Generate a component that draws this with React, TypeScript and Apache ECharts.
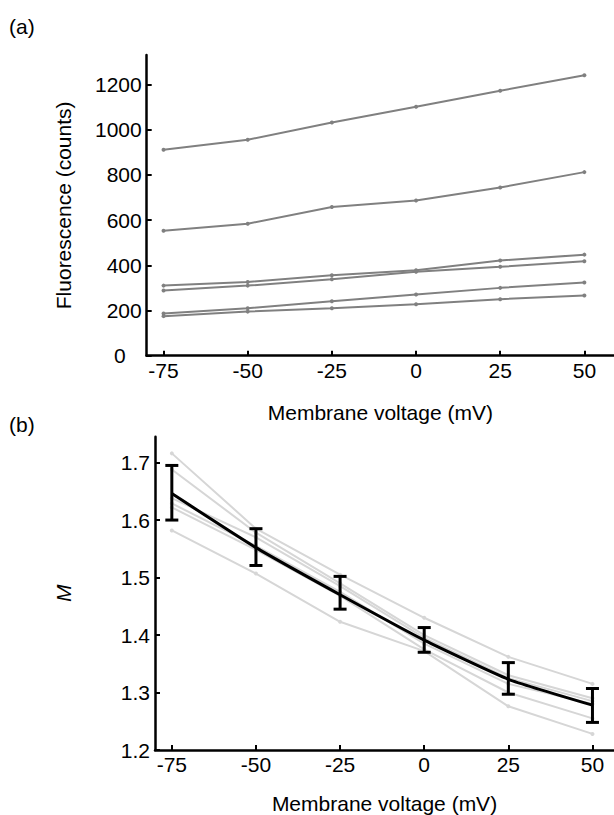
import React, { useEffect, useRef } from "react";
import * as echarts from "echarts";

// ---- Data ----
const voltages = [-75, -50, -25, 0, 25, 50];
const xTicks = [-75, -50, -25, 0, 25, 50];
const fluoTicks = [0, 200, 400, 600, 800, 1000, 1200];
const mTicks = [1.2, 1.3, 1.4, 1.5, 1.6, 1.7];

// (a) fluorescence traces (counts)
const fluo1 = [911, 955, 1031, 1101, 1172, 1240];
const fluo2 = [553, 584, 658, 686, 744, 812];
const fluo3 = [310, 326, 356, 378, 421, 447];
const fluo4 = [288, 310, 338, 371, 393, 418];
const fluo5 = [187, 210, 241, 271, 300, 324];
const fluo6 = [175, 195, 210, 228, 250, 266];
const fluoSeries = [fluo1, fluo2, fluo3, fluo4, fluo5, fluo6];

// (b) individual M traces
const m1 = [1.716, 1.585, 1.505, 1.43, 1.362, 1.315];
const m2 = [1.688, 1.578, 1.49, 1.4, 1.33, 1.29];
const m3 = [1.638, 1.57, 1.485, 1.395, 1.325, 1.285];
const m4 = [1.629, 1.555, 1.475, 1.385, 1.315, 1.28];
const m5 = [1.622, 1.548, 1.468, 1.375, 1.3, 1.255];
const m6 = [1.582, 1.507, 1.423, 1.372, 1.276, 1.228];
const mSeries = [m1, m2, m3, m4, m5, m6];

// (b) mean and error bars
const mMean = [1.646, 1.552, 1.47, 1.391, 1.323, 1.278];
const mLow = [1.6, 1.521, 1.445, 1.37, 1.297, 1.248];
const mHigh = [1.695, 1.585, 1.502, 1.413, 1.352, 1.307];

const FONT = "'Liberation Sans', Arial, sans-serif";
const FS = 21;

export default function App() {
  const ref = useRef<HTMLDivElement>(null);

  useEffect(() => {
    document.body.style.margin = "0";
    if (!ref.current) return;
    const chart = echarts.init(ref.current, undefined, { renderer: "svg" });

    const axisCommon = {
      axisLine: { show: true, onZero: false, lineStyle: { color: "#000", width: 2.5 } },
      axisTick: { show: true, inside: true, length: 5, lineStyle: { color: "#000", width: 2 } },
      splitLine: { show: false },
    };

    const xAxisBase = (gridIndex: number, max: number, nameGap: number) => ({
      ...axisCommon,
      type: "value",
      gridIndex,
      min: -80,
      max,
      name: "Membrane voltage (mV)",
      nameLocation: "middle",
      nameGap,
      nameTextStyle: { fontFamily: FONT, fontSize: FS, color: "#000" },
      axisTick: { ...axisCommon.axisTick, customValues: xTicks },
      axisLabel: {
        customValues: xTicks,
        margin: 4,
        fontFamily: FONT,
        fontSize: FS,
        color: "#000",
      },
    });

    const series: any[] = [];
    fluoSeries.forEach((vals, i) => {
      series.push({
        type: "line",
        name: "F" + (i + 1),
        xAxisIndex: 0,
        yAxisIndex: 0,
        data: voltages.map((v, j) => [v, vals[j]]),
        symbol: "circle",
        symbolSize: 4,
        lineStyle: { color: "#808080", width: 2 },
        itemStyle: { color: "#808080" },
      });
    });
    mSeries.forEach((vals, i) => {
      series.push({
        type: "line",
        name: "M" + (i + 1),
        xAxisIndex: 1,
        yAxisIndex: 1,
        data: voltages.map((v, j) => [v, vals[j]]),
        symbol: "circle",
        symbolSize: 4,
        lineStyle: { color: "#d6d6d6", width: 2 },
        itemStyle: { color: "#d6d6d6" },
      });
    });
    series.push({
      type: "line",
      name: "Mean",
      xAxisIndex: 1,
      yAxisIndex: 1,
      data: voltages.map((v, j) => [v, mMean[j]]),
      symbol: "none",
      smooth: 0.15,
      lineStyle: { color: "#000", width: 3 },
      z: 5,
    });
    series.push({
      type: "custom",
      name: "SEM",
      xAxisIndex: 1,
      yAxisIndex: 1,
      data: voltages.map((v, j) => [v, mLow[j], mHigh[j]]),
      encode: { x: 0, y: [1, 2] },
      z: 6,
      renderItem: (params: any, api: any) => {
        const lo = api.coord([api.value(0), api.value(1)]);
        const hi = api.coord([api.value(0), api.value(2)]);
        const w = 6.5;
        const st = { stroke: "#000", lineWidth: 3 };
        return {
          type: "group",
          children: [
            { type: "line", shape: { x1: lo[0], y1: lo[1], x2: hi[0], y2: hi[1] }, style: st },
            { type: "line", shape: { x1: lo[0] - w, y1: lo[1], x2: lo[0] + w, y2: lo[1] }, style: st },
            { type: "line", shape: { x1: hi[0] - w, y1: hi[1], x2: hi[0] + w, y2: hi[1] }, style: st },
          ],
        };
      },
    });

    chart.setOption({
      animation: false,
      backgroundColor: "#fff",
      textStyle: { fontFamily: FONT },
      grid: [
        { left: 146.7, top: 55, right: 0, bottom: 815 - 355.7, containLabel: false },
        { left: 155, top: 436.7, right: 0, bottom: 815 - 751, containLabel: false },
      ],
      xAxis: [xAxisBase(0, 58.8, 46), xAxisBase(1, 56.4, 43)],
      yAxis: [
        {
          ...axisCommon,
          type: "value",
          gridIndex: 0,
          min: 0,
          max: 1330,
          name: "Fluorescence (counts)",
          nameLocation: "middle",
          nameGap: 73,
          nameTextStyle: { fontFamily: FONT, fontSize: FS, color: "#000" },
          axisTick: { ...axisCommon.axisTick, customValues: fluoTicks },
          axisLabel: {
            customValues: fluoTicks,
            margin: 5,
            fontFamily: FONT,
            fontSize: FS,
            color: "#000",
            formatter: (v: number) => (v === 0 ? "{z|0}" : String(v)),
            rich: { z: { fontFamily: FONT, fontSize: FS, color: "#000", padding: [0, 16, 0, 0] } },
          },
        },
        {
          ...axisCommon,
          type: "value",
          gridIndex: 1,
          min: 1.2,
          max: 1.745,
          name: "M",
          nameLocation: "middle",
          nameGap: 81,
          nameTextStyle: { fontFamily: FONT, fontSize: FS, color: "#000", fontStyle: "italic" },
          axisTick: { ...axisCommon.axisTick, customValues: mTicks },
          axisLabel: {
            customValues: mTicks,
            margin: 5,
            fontFamily: FONT,
            fontSize: FS,
            color: "#000",
            formatter: (v: number) => v.toFixed(1),
          },
        },
      ],
      graphic: [
        { type: "text", left: 9, top: 16, style: { text: "(a)", font: FS + "px " + FONT, fill: "#000" } },
        { type: "text", left: 9, top: 414, style: { text: "(b)", font: FS + "px " + FONT, fill: "#000" } },
      ],
      series,
    });

    return () => chart.dispose();
  }, []);

  return <div ref={ref} style={{ width: 614, height: 815 }} />;
}
